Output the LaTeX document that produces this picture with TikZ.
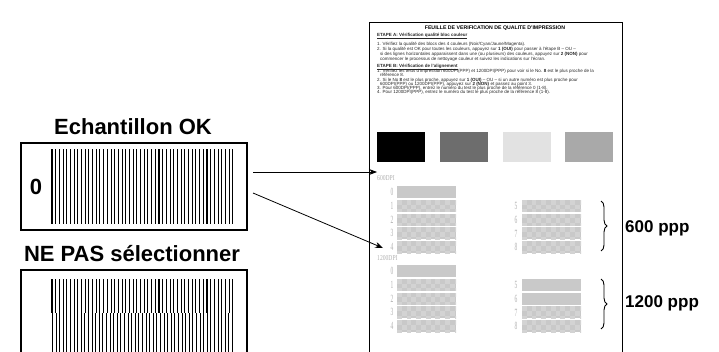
\documentclass[tikz,border=0pt]{standalone}
\usepackage{fontspec}
\setmainfont{Liberation Sans}
\newfontfamily\dpifont{Liberation Serif}
\usetikzlibrary{decorations.pathreplacing,arrows.meta}
\definecolor{blockgray}{HTML}{C9C9C9}
\definecolor{checkgray}{HTML}{D3D3D3}
\definecolor{labgray}{HTML}{B0B0B0}
\definecolor{cblk}{HTML}{000000}
\definecolor{cdark}{HTML}{6D6D6D}
\definecolor{clight}{HTML}{E2E2E2}
\definecolor{cmid}{HTML}{A9A9A9}
\newcommand\qblock[3]{%
  \fill[blockgray] (#1,#2) rectangle ++(59,12);
  \ifnum#3=1
  \begin{scope}
    \clip (#1,#2) rectangle ++(59,12);
    \foreach \c in {0,...,12}{\foreach \r in {0,1,2}{%
      \pgfmathtruncatemacro\qpp{mod(\c+\r,2)}%
      \ifnum\qpp=0 \fill[checkgray] ({#1+\c*4.8},{#2+\r*4.8}) rectangle ++(4.8,4.8);\fi}}
  \end{scope}
  \fi}
\begin{document}
\begin{tikzpicture}[x=1pt,y=-1pt,
  lbl/.style={font=\fontsize{22}{22}\selectfont\bfseries, inner sep=0},
  ppp/.style={font=\fontsize{17}{17}\selectfont\bfseries, anchor=west, inner sep=0},
  tiny/.style={font=\fontsize{4.5}{5}\selectfont, anchor=west, inner sep=0, text=black!85},
  sheettitle/.style={font=\fontsize{5.2}{6}\selectfont\bfseries, inner sep=0},
  samplebox/.style={draw, line width=2pt, anchor=north west, inner sep=0, minimum width=226pt},
  bar/.style={line width=1.05pt},
  dpi/.style={font=\dpifont\fontsize{7.5}{7.5}\selectfont, text=labgray, anchor=west, inner sep=0},
  num/.style={font=\dpifont\fontsize{11}{11}\selectfont, text=labgray, inner sep=0},
  arr/.style={line width=0.8pt, -{Stealth[length=8pt,width=6pt]}},
  brc/.style={decorate, decoration={brace, amplitude=6pt}, line width=0.9pt},
  cblock/.style={anchor=north west, inner sep=0, minimum width=48pt, minimum height=30pt}]
\useasboundingbox (0,0) rectangle (719,351);
\clip (0,0) rectangle (719,351);

% ---- left samples ----
\node[lbl] (oklbl) at (133,127) {Echantillon OK};
\node[samplebox, minimum height=87pt] (okbox) at (20,142) {};
\node[lbl] (zero) at (36,187) {0};
\foreach \i in {0,...,49} \draw[bar] ({52+\i*3.69},149) -- ++(0,75);

\node[lbl] (nglbl) at (132,254) {NE PAS sélectionner};
\node[samplebox, minimum height=120pt] (ngbox) at (20,269) {};
\foreach \i in {0,...,49} \draw[bar] ({52+\i*3.69},279) -- (({52+\i*3.69},313);
\foreach \i in {0,...,50} \draw[bar] ({52.5+\i*3.60},313) -- ++(0,60);

% ---- sheet ----
\node[draw, line width=1pt, anchor=north west, inner sep=0, minimum width=253pt, minimum height=360pt] (sheet) at (369,22) {};
\node[sheettitle] (title) at (495,28) {FEUILLE DE VERIFICATION DE QUALITE D'IMPRESSION};
\node[tiny] (a0) at (377,36) {\textbf{\underline{ETAPE A: Vérification qualité bloc couleur}}};
\node[tiny] (a1) at (377,44) {1. Vérifiez la qualité des blocs des 4 couleurs (Noir/Cyan/Jaune/Magenta).};
\node[tiny] (a2) at (377,49) {2. Si la qualité est OK pour toutes les couleurs, appuyez sur \textbf{1 (OUI)} pour passer à l'étape B – OU –};
\node[tiny] (a3) at (380,54) {si des lignes horizontales apparaissent dans une (ou plusieurs) des couleurs, appuyez sur \textbf{2 (NON)} pour};
\node[tiny] (a4) at (380,59) {commencer le processus de nettoyage couleur et suivez les indications sur l'écran.};
\node[tiny] (b0) at (377,67) {\textbf{\underline{ETAPE B: Vérification de l'alignement}}};
\node[tiny] (b1) at (377,71) {1. Vérifiez les tests d'impression 600DPI(PPP) et 1200DPI(PPP) pour voir si le No. \textbf{8} est le plus proche de la};
\node[tiny] (b2) at (380,75) {référence 8.};
\node[tiny] (b3) at (377,80) {2. Si le No \textbf{8} est le plus proche, appuyez sur \textbf{1 (OUI)} – OU – si un autre numéro est plus proche pour};
\node[tiny] (b4) at (380,84) {600DPI(PPP) ou 1200DPI(PPP), appuyez sur \textbf{2 (NON)} et passez au point 3.};
\node[tiny] (b5) at (377,88) {3. Pour 600DPI(PPP), entrez le numéro du test le plus proche de la référence 0 (1-8).};
\node[tiny] (b6) at (377,92) {4. Pour 1200DPI(PPP), entrez le numéro du test le plus proche de la référence 8 (1-8).};

\node[cblock, fill=cblk] (k1) at (377,132) {};
\node[cblock, fill=cdark] (k2) at (440,132) {};
\node[cblock, fill=clight] (k3) at (503,132) {};
\node[cblock, fill=cmid] (k4) at (565,132) {};

% 600 DPI
\node[dpi] (d600) at (377,178) {\scalebox{0.75}[1]{600DPI}};
\qblock{397}{186}{0}
\foreach \k in {1,...,4}{\qblock{397}{186+13.8*\k}{1}\qblock{522}{186+13.8*\k}{1}}
\foreach \k in {0,...,4}\node[num] at (392,{192+13.8*\k}) {\scalebox{0.5}[1]{\k}};
\foreach \k in {1,...,4}{\pgfmathtruncatemacro\kk{\k+4}\node[num] at (516,{192+13.8*\k}) {\scalebox{0.5}[1]{\kk}};}
% 1200 DPI
\node[dpi] (d1200) at (377,258) {\scalebox{0.75}[1]{1200DPI}};
\qblock{397}{265}{0}
\foreach \k in {1,...,4}{\qblock{397}{265+13.8*\k}{1}}
\qblock{522}{278.8}{0}
\qblock{522}{292.6}{0}
\qblock{522}{306.4}{1}
\qblock{522}{320.2}{1}
\foreach \k in {0,...,4}\node[num] at (392,{271+13.8*\k}) {\scalebox{0.5}[1]{\k}};
\foreach \k in {1,...,4}{\pgfmathtruncatemacro\kk{\k+4}\node[num] at (516,{271+13.8*\k}) {\scalebox{0.5}[1]{\kk}};}

% braces and labels
\coordinate (br1t) at (601,201); \coordinate (br1b) at (601,251);
\coordinate (br2t) at (601,279); \coordinate (br2b) at (601,329);
\draw[brc] (br1t) -- (br1b);
\draw[brc] (br2t) -- (br2b);
\node[ppp] (p600) at (625,228) {600 ppp};
\node[ppp] (p1200) at (625,303) {1200 ppp};

% arrows
\coordinate (s1) at (253,172); \coordinate (e1) at (377,172);
\coordinate (s2) at (253,193); \coordinate (e2) at (383,248);
\draw[arr] (s1) -- (e1);
\draw[arr] (s2) -- (e2);
\end{tikzpicture}
\end{document}
